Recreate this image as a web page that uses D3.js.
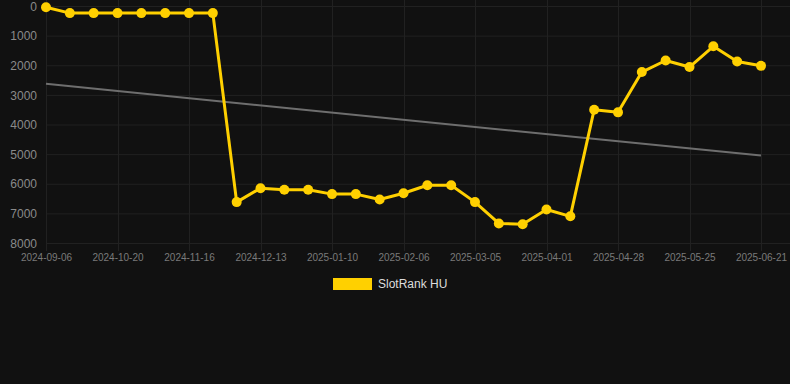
<!DOCTYPE html>
<html>
<head>
<meta charset="utf-8">
<script src="https://cdn.jsdelivr.net/npm/d3@7"></script>
<style>
  body { margin: 0; background: #111111; }
  svg { display: block; font-family: "Liberation Sans", Arial, sans-serif; }
</style>
</head>
<body>
<div class="container"></div>
<script>
// dates, one per point (every third is shown on the axis)
const dates = [
  '2024-09-06', '2024-09-21', '2024-10-05', '2024-10-20', '2024-10-29', '2024-11-07',
  '2024-11-16', '2024-11-25', '2024-12-04', '2024-12-13', '2024-12-22', '2024-12-31',
  '2025-01-10', '2025-01-19', '2025-01-28', '2025-02-06', '2025-02-15', '2025-02-24',
  '2025-03-05', '2025-03-14', '2025-03-23', '2025-04-01', '2025-04-10', '2025-04-19',
  '2025-04-28', '2025-05-07', '2025-05-16', '2025-05-25', '2025-06-03', '2025-06-12',
  '2025-06-21'
]
const ranks = [
  40, 240, 240, 240, 240, 240, 240, 240, 6620, 6150, 6200, 6200,
  6350, 6350, 6530, 6320, 6050, 6050, 6620, 7340, 7370, 6870, 7100,
  3500, 3590, 2230, 1840, 2060, 1360, 1875, 2020
]
// trend line, value at first and last date
const trend = [2626, 5050]
const yTicks = [0, 1000, 2000, 3000, 4000, 5000, 6000, 7000, 8000]
const seriesName = 'SlotRank HU'

const width = 790
const height = 384
const margin = {top: 6, right: 29, bottom: 141, left: 46}

const svg = d3.select('.container')
    .append('svg')
    .attr('width', width)
    .attr('height', height)

svg.append('rect')
    .attr('width', width)
    .attr('height', height)
    .attr('fill', '#111111')

const x = d3.scalePoint()
    .domain(dates)
    .range([margin.left, width - margin.right])

const y = d3.scaleLinear()
    .domain([0, 8000])
    .range([margin.top, height - margin.bottom])

const tickDates = dates.filter((d, i) => i % 3 === 0)

// grid
svg.append('g')
    .selectAll('line')
    .data(yTicks)
    .enter().append('line')
    .attr('x1', margin.left)
    .attr('x2', width)
    .attr('y1', d => y(d) + 0.5)
    .attr('y2', d => y(d) + 0.5)
    .style('stroke', '#212121')
    .style('stroke-width', 1)

svg.append('g')
    .selectAll('line')
    .data(tickDates)
    .enter().append('line')
    .attr('x1', d => Math.round(x(d)) + 0.5)
    .attr('x2', d => Math.round(x(d)) + 0.5)
    .attr('y1', 0)
    .attr('y2', y(8000) + 8)
    .style('stroke', '#212121')
    .style('stroke-width', 1)

// y axis labels
const yAxis = svg.append('g')
    .attr('transform', `translate(${margin.left - 9},0)`)
    .call(d3.axisLeft(y).tickValues(yTicks).tickSize(0).tickPadding(0).tickFormat(d3.format('d')))
yAxis.select('.domain').remove()
yAxis.selectAll('text')
    .style('fill', '#8a8a8a')
    .style('font-size', '12px')
    .attr('dy', '0.35em')

// x axis labels
const xAxis = svg.append('g')
    .attr('transform', `translate(0,${y(8000) + 11})`)
    .call(d3.axisBottom(x).tickValues(tickDates).tickSize(0).tickPadding(0))
xAxis.select('.domain').remove()
xAxis.selectAll('text')
    .style('fill', '#7a7a7a')
    .style('font-size', '10px')
    .attr('dy', '0.71em')

// trend
svg.append('line')
    .attr('x1', x(dates[0]))
    .attr('x2', x(dates[dates.length - 1]))
    .attr('y1', y(trend[0]))
    .attr('y2', y(trend[1]))
    .style('stroke', '#6e6e6e')
    .style('stroke-width', 2)

// series
const line = d3.line()
    .x((d, i) => x(dates[i]))
    .y(d => y(d))

svg.append('path')
    .datum(ranks)
    .attr('d', line)
    .style('fill', 'none')
    .style('stroke', '#ffd000')
    .style('stroke-width', 3)
    .style('stroke-linejoin', 'round')

svg.append('g')
    .selectAll('circle')
    .data(ranks)
    .enter().append('circle')
    .attr('cx', (d, i) => x(dates[i]))
    .attr('cy', d => y(d))
    .attr('r', 5)
    .style('fill', '#ffd000')

// legend
const legend = svg.append('g')
    .attr('transform', 'translate(333,278)')
legend.append('rect')
    .attr('width', 39)
    .attr('height', 12)
    .style('fill', '#ffd000')
legend.append('text')
    .attr('x', 45)
    .attr('y', 6)
    .attr('dy', '0.35em')
    .style('fill', '#dddddd')
    .style('font-size', '12px')
    .text(seriesName)
</script>
</body>
</html>
